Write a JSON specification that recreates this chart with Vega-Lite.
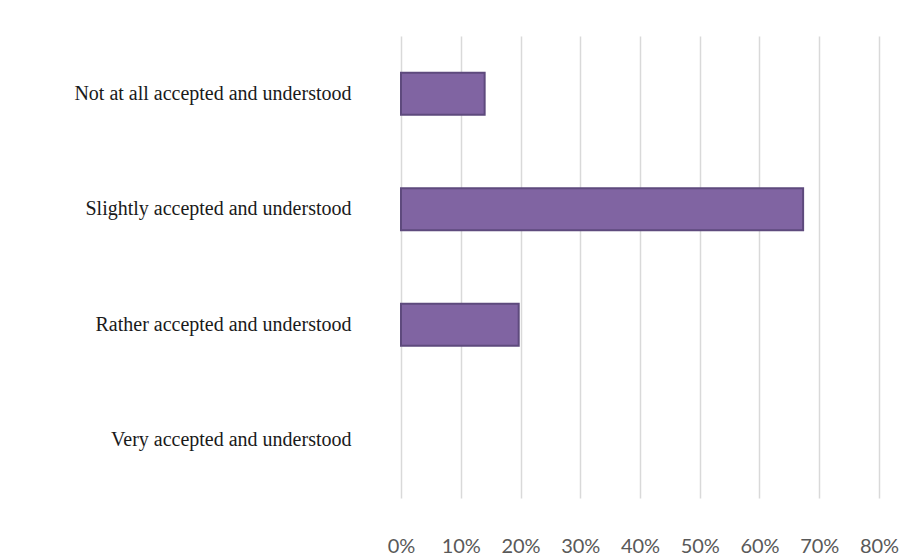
{
  "$schema": "https://vega.github.io/schema/vega-lite/v6.json",
  "autosize": {"type": "none"},
  "width": 478,
  "height": 462,
  "padding": {"left": 401, "top": 36, "right": 41, "bottom": 60},
  "background": "white",
  "config": {"view": {"stroke": null}},
  "data": {
    "values": [
      {"category": "Not at all accepted and understood", "share": 0.14},
      {"category": "Slightly accepted and understood", "share": 0.673},
      {"category": "Rather accepted and understood", "share": 0.197},
      {"category": "Very accepted and understood", "share": 0}
    ]
  },
  "mark": {"type": "bar", "fill": "#8064a2", "stroke": "#5e4a7d", "strokeWidth": 2},
  "encoding": {
    "y": {
      "field": "category",
      "type": "nominal",
      "sort": null,
      "scale": {"paddingInner": 0.636, "paddingOuter": 0.318},
      "axis": {
        "title": null,
        "domain": false,
        "ticks": false,
        "labelFont": "Liberation Serif",
        "labelFontSize": 20,
        "labelColor": "#1a1a1a",
        "labelPadding": 50,
        "labelLimit": 400
      }
    },
    "x": {
      "field": "share",
      "type": "quantitative",
      "scale": {"domain": [0, 0.8], "nice": false},
      "axis": {
        "title": null,
        "format": ".0%",
        "values": [0, 0.1, 0.2, 0.3, 0.4, 0.5, 0.6, 0.7, 0.8],
        "domain": false,
        "ticks": false,
        "grid": true,
        "gridColor": "#d9d9d9",
        "gridWidth": 1.5,
        "labelFont": "Lato",
        "labelFontSize": 20,
        "labelColor": "#595959",
        "labelPadding": 38,
        "labelFlush": false
      }
    },
    "strokeOpacity": {
      "condition": {"test": "datum.share > 0", "value": 1},
      "value": 0
    }
  }
}
